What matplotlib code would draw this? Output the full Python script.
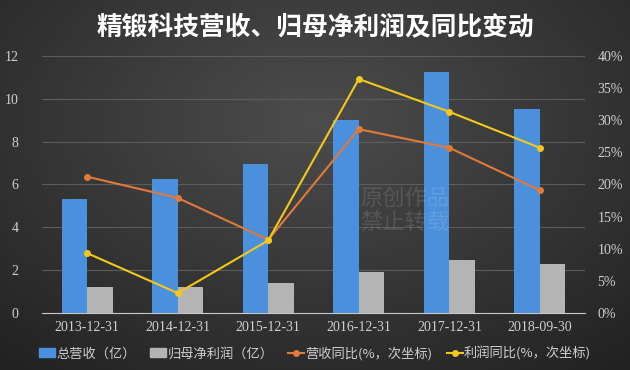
import numpy as np
import matplotlib
matplotlib.use('Agg')
from matplotlib import pyplot as plt
from matplotlib.lines import Line2D
from matplotlib.patches import Patch

plt.rcParams['font.family'] = ['Noto Sans CJK SC', 'DejaVu Sans']

# 数据
dates = ['2013-12-31', '2014-12-31', '2015-12-31', '2016-12-31', '2017-12-31', '2018-09-30']
revenue = [5.33, 6.26, 6.96, 9.02, 11.26, 9.53]          # 总营收（亿）
net_profit = [1.21, 1.23, 1.39, 1.93, 2.48, 2.29]        # 归母净利润（亿）
rev_yoy = [21.2, 17.9, 11.4, 28.6, 25.7, 19.1]           # 营收同比 %
profit_yoy = [9.3, 3.1, 11.3, 36.4, 31.3, 25.7]          # 利润同比 %

left_ticks = [0, 2, 4, 6, 8, 10, 12]
right_ticks = [0, 5, 10, 15, 20, 25, 30, 35, 40]

fig = plt.figure(figsize=(6.3, 3.7), dpi=100)

# 背景渐变
bg = fig.add_axes([0, 0, 1, 1], zorder=-10)
yy, xx = np.mgrid[-1:1:200j, -1:1:340j]
r = np.sqrt((xx * 0.9) ** 2 + ((yy + 0.35) * 0.8) ** 2)
shade = np.clip(0.3 - 0.12 * r, 0.12, 0.31)
bg.imshow(np.dstack([shade] * 3), aspect='auto', extent=[0, 1, 0, 1])
bg.axis('off')

ax = fig.add_axes([0.0667, 0.154, 0.862, 0.695])
ax.patch.set_alpha(0)
x = np.arange(len(dates))
w = 0.28
ax.bar(x - w / 2, revenue, w, color='#4a90dc', zorder=3)
ax.bar(x + w / 2, net_profit, w, color='#b4b4b4', zorder=3)
ax.set_ylim(0, 12)
ax.set_xlim(-0.5, len(dates) - 0.5)
ax.set_yticks(left_ticks)
ax.set_xticks(x)
ax.set_xticklabels(dates)
ax.grid(axis='y', color='#5c5c5c', linewidth=0.8, zorder=0)
for s in ['top', 'left', 'right']:
    ax.spines[s].set_visible(False)
ax.spines['bottom'].set_color('#c8c8c8')
ax.tick_params(length=0, colors='#d0d0d0', labelsize=10)
ax.tick_params(axis='y', pad=17)
ax.tick_params(axis='x', pad=6)
for lab in ax.get_xticklabels() + ax.get_yticklabels():
    lab.set_family(['Liberation Serif', 'DejaVu Serif'])

ax2 = ax.twinx()
ax2.plot(x, rev_yoy, color='#e07a3a', lw=1.5, marker='o', ms=4, zorder=4)
ax2.plot(x, profit_yoy, color='#f2c81c', lw=1.5, marker='o', ms=4, zorder=5)
ax2.set_ylim(0, 40)
ax2.set_yticks(right_ticks)
ax2.set_yticklabels([f'{t}%' for t in right_ticks])
for s in ax2.spines.values():
    s.set_visible(False)
ax2.tick_params(length=0, colors='#d0d0d0', labelsize=10, pad=9)
for lab in ax2.get_yticklabels():
    lab.set_family(['Liberation Serif', 'DejaVu Serif'])

# 水印
fig.text(0.572, 0.43, '原创作品\n禁止转载', color='#ffffff', alpha=0.12,
         fontsize=16, linespacing=1.05, ha='left', va='center')

fig.text(0.5, 0.927, '精锻科技营收、归母净利润及同比变动', color='white',
         fontsize=18.5, fontweight='bold', ha='center', va='center')

handles = [Patch(color='#4a90dc'), Patch(color='#b4b4b4'),
           Line2D([], [], color='#e07a3a', lw=1.5, marker='o', ms=4),
           Line2D([], [], color='#f2c81c', lw=1.5, marker='o', ms=4)]
labels = ['总营收（亿）', '归母净利润（亿）', '营收同比(%，次坐标)', '利润同比(%，次坐标)']
leg = fig.legend(handles, labels, loc='center', bbox_to_anchor=(0.5, 0.045), ncol=4,
                 frameon=False, fontsize=9.5, handlelength=1.2, handletextpad=0.1,
                 columnspacing=1.1, labelcolor='#d0d0d0')

fig.savefig('out.png', dpi=100)
